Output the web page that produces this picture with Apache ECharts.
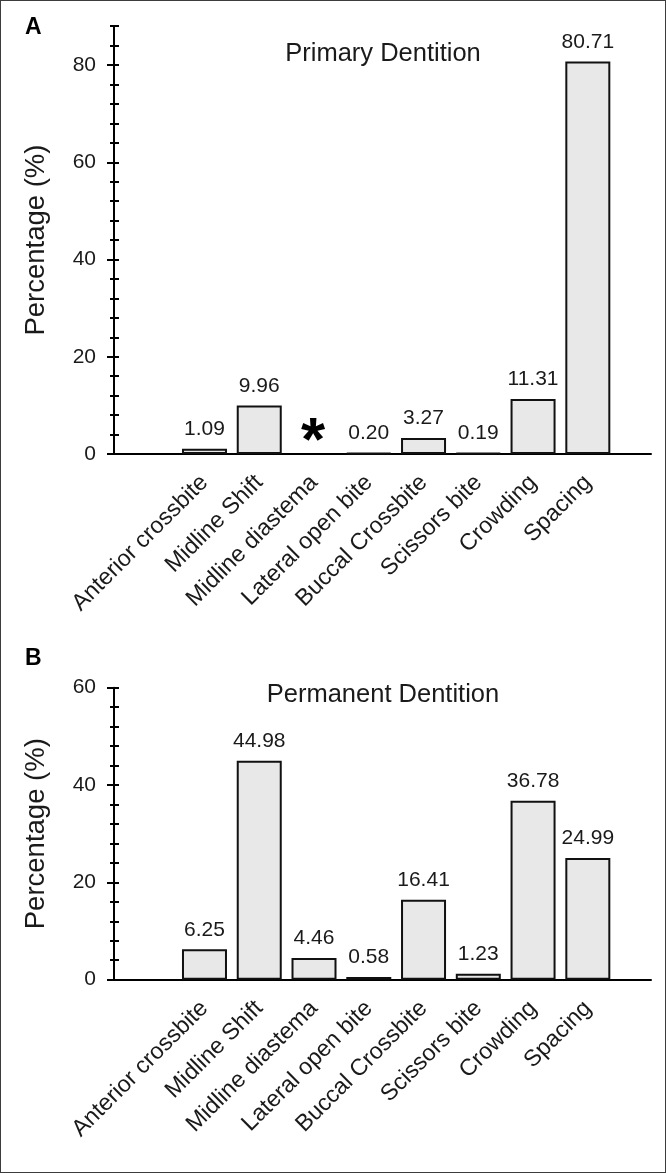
<!DOCTYPE html>
<html>
<head>
<meta charset="utf-8">
<script src="https://cdn.jsdelivr.net/npm/echarts@6/dist/echarts.min.js"></script>
<style>
  html, body { margin: 0; padding: 0; background: #fff; }
  #frame { position: absolute; left: 0; top: 0; width: 666px; height: 1173px; box-sizing: border-box; border: 1px solid #3c3c3c; }
  #chart { width: 664px; height: 1171px; }
</style>
</head>
<body>
<div id="frame"><div id="chart"></div></div>
<script>
const categories = ['Anterior crossbite', 'Midline Shift', 'Midline diastema', 'Lateral open bite', 'Buccal Crossbite', 'Scissors bite', 'Crowding', 'Spacing'];
const primaryValues = [1.09, 9.96, null, 0.20, 3.27, 0.19, 11.31, 80.71];
const permanentValues = [6.25, 44.98, 4.46, 0.58, 16.41, 1.23, 36.78, 24.99];
const primaryTicks = [0, 20, 40, 60, 80];
const permanentTicks = [0, 20, 40, 60];
const primaryMax = 88;
const permanentMax = 60;
const minorStep = 4;
const panelTitles = ['Primary Dentition', 'Permanent Dentition'];
const panelLetters = ['A', 'B'];
const yName = 'Percentage (%)';

const FONT = '"Liberation Sans", Arial, Helvetica, sans-serif';
const INK = '#1a1a1a';

const panels = [
  { values: primaryValues, ticks: primaryTicks, max: primaryMax, top: 25.1, height: 427.9, titleTop: 39.5, letterTop: 15 },
  { values: permanentValues, ticks: permanentTicks, max: permanentMax, top: 686.7, height: 292, titleTop: 680.5, letterTop: 646 }
];

const option = { animation: false, grid: [], xAxis: [], yAxis: [], series: [], title: [] };

panels.forEach((p, i) => {
  const gBar = option.grid.length;
  option.grid.push({ left: 176.1, width: 438.1, top: p.top, height: p.height, containLabel: false });
  const gAxis = option.grid.length;
  option.grid.push({ left: 113, width: 537, top: p.top, height: p.height, containLabel: false });

  const xBar = option.xAxis.length;
  option.xAxis.push({
    type: 'category', gridIndex: gBar, data: categories, position: 'bottom',
    axisLine: { show: false }, axisTick: { show: false },
    axisLabel: { interval: 0, rotate: 45, margin: 25, fontSize: 23.3, color: INK, fontFamily: FONT }
  });
  option.xAxis.push({
    type: 'category', gridIndex: gAxis, data: categories, position: 'bottom',
    axisLine: { show: true, lineStyle: { color: '#000', width: 2 } },
    axisTick: { show: false }, axisLabel: { show: false }
  });

  const yBar = option.yAxis.length;
  option.yAxis.push({ type: 'value', gridIndex: gBar, position: 'left', min: 0, max: p.max, show: false, splitLine: { show: false } });
  option.yAxis.push({
    type: 'value', gridIndex: gAxis, position: 'left', min: 0, max: p.max, interval: minorStep,
    axisLine: { show: true, lineStyle: { color: '#000', width: 2 } },
    axisTick: { show: true, length: 4, lineStyle: { color: '#000', width: 2 } },
    axisLabel: { customValues: p.ticks, fontSize: 21, margin: 18, color: INK, fontFamily: FONT },
    splitLine: { show: false },
    name: yName, nameLocation: 'middle', nameGap: 64, nameRotate: 90,
    nameTextStyle: { fontSize: 27.5, color: INK, fontFamily: FONT }
  });
  option.yAxis.push({
    type: 'value', gridIndex: gAxis, position: 'left', offset: 0, min: 0, max: p.max, interval: minorStep,
    axisLine: { show: false },
    axisTick: { show: true, inside: true, length: 5, lineStyle: { color: '#000', width: 2 } },
    axisLabel: { show: false }, splitLine: { show: false }
  });
  option.yAxis.push({
    type: 'value', gridIndex: gAxis, position: 'left', offset: 0, min: 0, max: p.max,
    axisLine: { show: false },
    axisTick: { show: true, customValues: p.ticks, length: 7, lineStyle: { color: '#000', width: 2 } },
    axisLabel: { show: false }, splitLine: { show: false }
  });

  const data = p.values.map(v => {
    if (v === null) {
      return {
        value: 0,
        itemStyle: { color: 'transparent', borderWidth: 0 },
        label: { formatter: '*', fontSize: 62, fontWeight: 'bold', color: '#000', distance: 0, offset: [-1, 20] }
      };
    }
    return v;
  });

  option.series.push({
    type: 'bar', xAxisIndex: xBar, yAxisIndex: yBar, data: data, barWidth: 45,
    itemStyle: { color: '#e8e8e8', borderColor: '#111', borderWidth: 2 },
    label: {
      show: true, position: 'top', distance: 9, fontSize: 21, color: INK, fontFamily: FONT,
      formatter: prm => (typeof prm.value === 'number' ? prm.value.toFixed(2) : '')
    }
  });

  option.title.push({
    text: panelTitles[i], left: 382, top: p.titleTop, textAlign: 'center', padding: 0,
    textStyle: { fontSize: 25.5, fontWeight: 'normal', color: INK, fontFamily: FONT }
  });
  option.title.push({
    text: panelLetters[i], left: 24, top: p.letterTop, padding: 0,
    textStyle: { fontSize: 23, fontWeight: 'bold', color: '#000', fontFamily: FONT }
  });
});

const chart = echarts.init(document.getElementById('chart'), null, { renderer: 'canvas' });
chart.setOption(option);
</script>
</body>
</html>
